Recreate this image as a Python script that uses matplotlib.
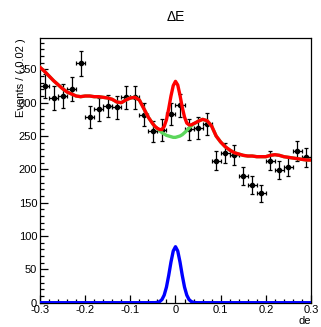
import numpy as np
import matplotlib
matplotlib.use("Agg")
import matplotlib.pyplot as plt
from matplotlib.ticker import MultipleLocator

plt.rcParams['font.family'] = ['Liberation Sans', 'DejaVu Sans']

# binned data, bin width 0.02
bin_centers = [-0.29, -0.27, -0.25, -0.23, -0.21, -0.19, -0.17, -0.15, -0.13, -0.11,
               -0.09, -0.07, -0.05, -0.03, -0.01, 0.01, 0.03, 0.05, 0.07, 0.09,
               0.11, 0.13, 0.15, 0.17, 0.19, 0.21, 0.23, 0.25, 0.27, 0.29]
counts = [325, 307, 310, 320, 359, 278, 290, 295, 293, 308,
          308, 282, 257, 259, 283, 296, 260, 262, 268, 213,
          225, 221, 190, 177, 164, 213, 199, 204, 227, 218]

# fitted pdf curves
curve_x = [-0.30, -0.29, -0.28, -0.27, -0.26, -0.25, -0.24, -0.23, -0.22, -0.21,
           -0.20, -0.19, -0.18, -0.17, -0.16, -0.15, -0.14, -0.13, -0.12, -0.11,
           -0.10, -0.09, -0.08, -0.07, -0.06, -0.05, -0.045, -0.04, -0.035, -0.03,
           -0.025, -0.02, -0.015, -0.01, -0.005, 0.0, 0.005, 0.01, 0.015, 0.02,
           0.025, 0.03, 0.035, 0.04, 0.045, 0.05, 0.06, 0.07, 0.08, 0.09,
           0.10, 0.11, 0.12, 0.13, 0.14, 0.15, 0.16, 0.17, 0.18, 0.19,
           0.20, 0.21, 0.22, 0.23, 0.24, 0.25, 0.26, 0.27, 0.28, 0.29, 0.30]
background = [353, 347, 340, 333, 327, 321, 316, 313, 310, 309,
              310, 310, 309, 309, 308, 307, 305, 301, 300, 304,
              307, 308, 304, 291, 278, 268, 264, 261, 258, 255,
              253, 251, 250, 249, 248, 248, 249, 250, 252, 255,
              258, 262, 265, 268, 270, 272, 275, 273, 265, 250,
              241, 234, 229, 225, 223, 221, 220, 220, 219, 219,
              219, 221, 222, 221, 219, 218, 217, 216, 215, 214, 214]
signal = [0, 0, 0, 0, 0, 0, 0, 0, 0, 0,
          0, 0, 0, 0, 0, 0, 0, 0, 0, 0,
          0, 0, 0, 0, 0, 0.1, 0.1, 0.5, 1.7, 4.7,
          11.4, 23.4, 41, 61, 77.5, 84, 77.5, 61, 41, 23.4,
          11.4, 4.7, 1.7, 0.5, 0.1, 0, 0, 0, 0, 0,
          0, 0, 0, 0, 0, 0, 0, 0, 0, 0,
          0, 0, 0, 0, 0, 0, 0, 0, 0, 0, 0]

xticks = [-0.3, -0.2, -0.1, 0.0, 0.1, 0.2, 0.3]
xticklabels = ['-0.3', '-0.2', '-0.1', '0', '0.1', '0.2', '0.3']

total = np.array(background) + np.array(signal)

fig = plt.figure(figsize=(3.21, 3.27), dpi=100)
ax = fig.add_axes([0.1246, 0.0743, 0.8442, 0.8095])

ax.errorbar(bin_centers, counts, xerr=0.01, yerr=np.sqrt(counts), fmt='o',
            color='black', ms=3, elinewidth=0.9, capsize=1.2, capthick=0.9, zorder=2)
ax.plot(curve_x, background, color='#5cd65c', lw=2.4, zorder=3)
ax.plot(curve_x, total, color='#ff0000', lw=2.4, zorder=4)
ax.plot(curve_x, signal, color='#0000ff', lw=2.4, zorder=5)

ax.set_xlim(-0.3, 0.3)
ax.set_ylim(0, 397)
ax.set_xticks(xticks, xticklabels)
ax.xaxis.set_minor_locator(MultipleLocator(0.02))
ax.yaxis.set_major_locator(MultipleLocator(50))
ax.yaxis.set_minor_locator(MultipleLocator(10))
ax.tick_params(which='both', direction='in', top=False, right=False, labelsize=8, pad=2)
ax.tick_params(which='major', length=6, width=0.9)
ax.tick_params(which='minor', length=3, width=0.9)
for s in ax.spines.values():
    s.set_linewidth(0.9)

fig.text(0.547, 0.948, 'ΔE', ha='center', va='center', fontsize=10)
fig.text(0.066, 0.884, 'Events / ( 0.02 )', rotation=90, ha='center', va='top', fontsize=8)
fig.text(0.968, 0.003, 'de', ha='right', va='bottom', fontsize=8)

fig.savefig('out.png', dpi=100)
